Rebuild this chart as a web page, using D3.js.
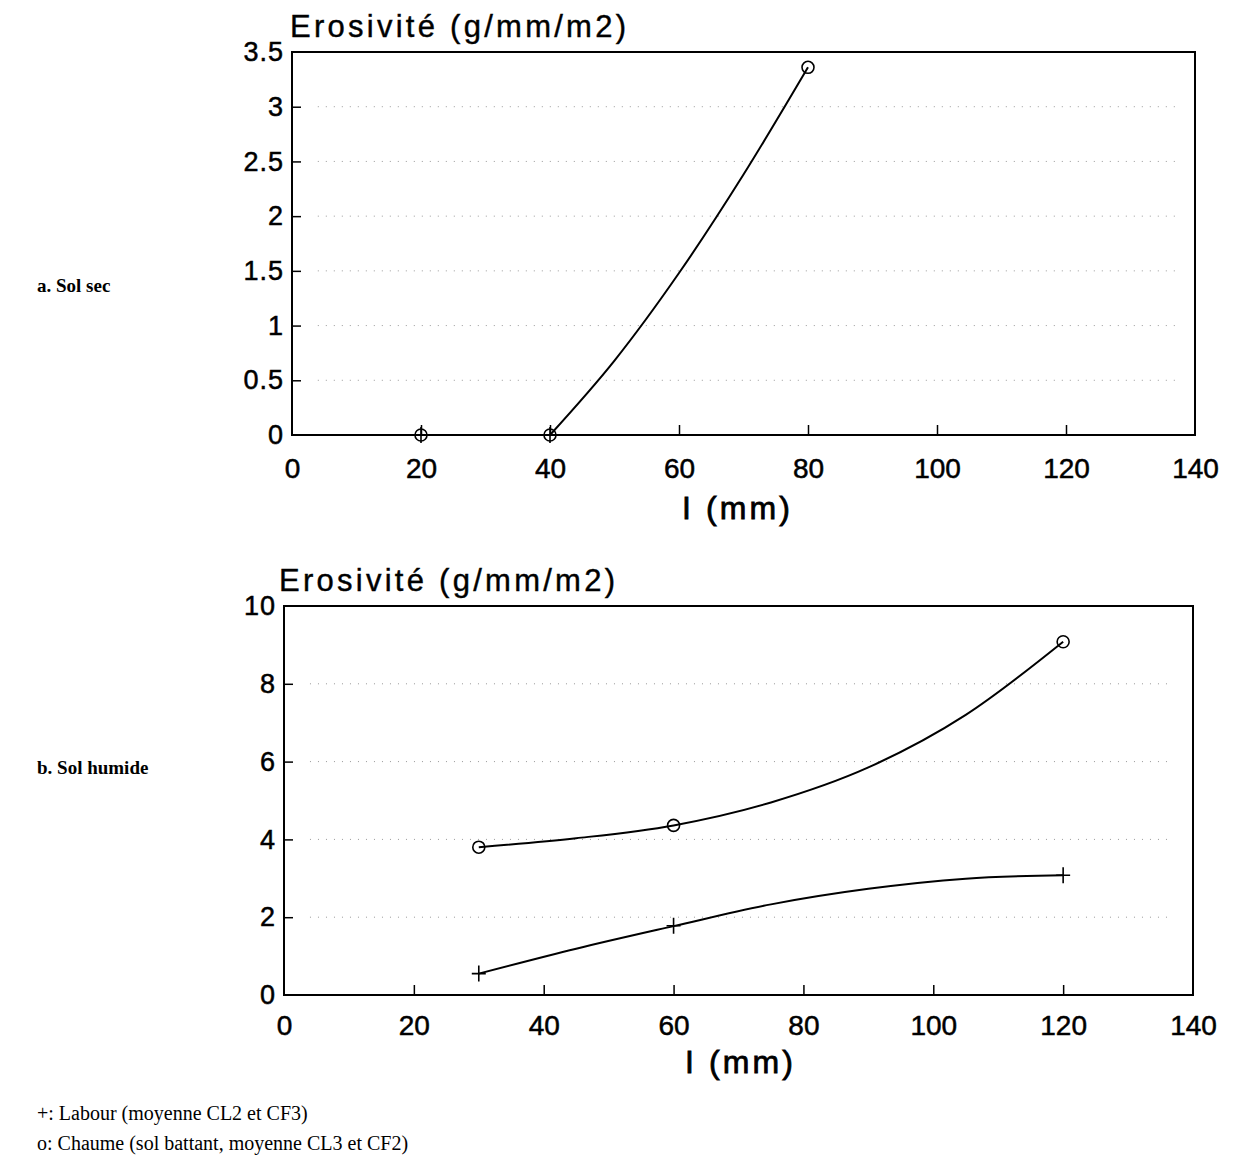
<!DOCTYPE html>
<html>
<head>
<meta charset="utf-8">
<script src="https://cdn.jsdelivr.net/npm/d3@7"></script>
<style>
body { margin: 0; background: #fff; }
</style>
</head>
<body>
<script>
// shared ticks
var xTicks = [0, 20, 40, 60, 80, 100, 120, 140];
var yTicksSec = [0, 0.5, 1, 1.5, 2, 2.5, 3, 3.5];
var yTicksHum = [0, 2, 4, 6, 8, 10];

// a. sol sec : measured points
var secPlus = [[20, 0], [40, 0]];
var secO = [[20, 0], [40, 0], [80, 3.36]];
// the drawn line (flat part, then the rising curve)
var secFlat = [[20, 0], [40, 0]];
var secCurve = [[40, 0], [50, 0.68], [60, 1.48], [70, 2.38], [80, 3.36]];

// b. sol humide : measured points
var humPlus = [[30, 0.55], [60, 1.78], [120, 3.08]];
var humO = [[30, 3.8], [60, 4.36], [120, 9.08]];
// drawn curves, every 15 mm
var humPlusCurve = [[30, 0.55], [45, 1.19], [60, 1.77], [75, 2.33], [90, 2.73], [105, 2.99], [120, 3.08]];
var humOCurve = [[30, 3.8], [45, 4.03], [60, 4.36], [75, 4.95], [90, 5.85], [105, 7.2], [120, 9.08]];

var titleText = 'Erosivité (g/mm/m2)';
var xLabelText = 'I (mm)';

var sans = 'Liberation Sans, Arial, Helvetica, sans-serif';
var serif = 'Liberation Serif, Times New Roman, serif';

var svg = d3.select('body').append('svg')
	.attr('width', 1235)
	.attr('height', 1158);

function drawPanel(p){
	var x = d3.scaleLinear().domain([0, 140]).range([p.left, p.right]);
	var y = d3.scaleLinear().domain([0, p.ymax]).range([p.bottom, p.top]);
	var g = svg.append('g');

	// faint dotted rows left over from the grid in the scan
	g.selectAll('line.grid')
		.data(p.yTicks.slice(1, -1))
		.enter()
		.append('line')
		.attr('class', 'grid')
		.attr('x1', x(4)).attr('x2', x(137))
		.attr('y1', function(d){ return y(d); })
		.attr('y2', function(d){ return y(d); })
		.attr('stroke', '#999')
		.attr('stroke-width', 1)
		.attr('stroke-dasharray', '1 7');

	var ya = g.append('g')
		.attr('transform', 'translate(' + p.left + ',0)')
		.call(d3.axisLeft(y)
			.tickValues(p.yTicks)
			.tickFormat(d3.format('~g'))
			.tickSizeInner(-9)
			.tickSizeOuter(0)
			.tickPadding(8));
	ya.select('.domain').remove();
	ya.selectAll('.tick line')
		.filter(function(d, i, n){ return i == 0 || i == n.length - 1; })
		.remove();
	ya.attr('font-size', 27).attr('font-family', sans);
	ya.selectAll('text')
		.attr('letter-spacing', 1)
		.attr('stroke', '#000')
		.attr('stroke-width', 0.5);

	var xa = g.append('g')
		.attr('transform', 'translate(0,' + p.bottom + ')')
		.call(d3.axisBottom(x)
			.tickValues(xTicks)
			.tickFormat(d3.format('d'))
			.tickSizeInner(-10)
			.tickSizeOuter(0)
			.tickPadding(p.xpad));
	xa.select('.domain').remove();
	xa.selectAll('.tick line')
		.filter(function(d, i, n){ return i == 0 || i == n.length - 1; })
		.remove();
	xa.attr('font-size', 28).attr('font-family', sans);
	xa.selectAll('text')
		.attr('stroke', '#000')
		.attr('stroke-width', 0.5);
	xa.selectAll('.tick line').attr('stroke-width', 1.5);
	ya.selectAll('.tick line').attr('stroke-width', 1.5);

	// frame
	g.append('rect')
		.attr('x', p.left)
		.attr('y', p.top)
		.attr('width', p.right - p.left)
		.attr('height', p.bottom - p.top)
		.attr('fill', 'none')
		.attr('stroke', '#000')
		.attr('stroke-width', 2);

	var line = d3.line()
		.x(function(d){ return x(d[0]); })
		.y(function(d){ return y(d[1]); })
		.curve(d3.curveMonotoneX);

	for(let c of p.curves){
		g.append('path')
			.attr('d', line(c))
			.attr('fill', 'none')
			.attr('stroke', '#000')
			.attr('stroke-width', 2);
	}

	g.selectAll('circle.o')
		.data(p.circles)
		.enter()
		.append('circle')
		.attr('class', 'o')
		.attr('cx', function(d){ return x(d[0]); })
		.attr('cy', function(d){ return y(d[1]); })
		.attr('r', 6)
		.attr('fill', 'none')
		.attr('stroke', '#000')
		.attr('stroke-width', 1.6);

	g.selectAll('path.plus')
		.data(p.plus)
		.enter()
		.append('path')
		.attr('class', 'plus')
		.attr('d', function(d){
			var cx = x(d[0]), cy = y(d[1]);
			return 'M' + (cx - 7) + ',' + cy + 'H' + (cx + 7) + 'M' + cx + ',' + (cy - 8) + 'V' + (cy + 8);
		})
		.attr('stroke', '#000')
		.attr('stroke-width', 1.6);

	g.append('text')
		.attr('x', p.titleX)
		.attr('y', p.titleY)
		.attr('font-family', sans)
		.attr('font-size', 31)
		.attr('textLength', 336)
		.attr('lengthAdjust', 'spacing')
		.attr('stroke', '#000')
		.attr('stroke-width', 0.4)
		.text(titleText);

	g.append('text')
		.attr('x', p.xLabelX)
		.attr('y', p.xLabelY)
		.attr('font-family', sans)
		.attr('font-size', 32)
		.attr('textLength', 108)
		.attr('lengthAdjust', 'spacing')
		.attr('stroke', '#000')
		.attr('stroke-width', 0.8)
		.text(xLabelText);

	g.append('text')
		.attr('x', 37)
		.attr('y', p.sideY)
		.attr('font-family', serif)
		.attr('font-weight', 'bold')
		.attr('font-size', 19)
		.text(p.side);
}

drawPanel({
	left: 292, right: 1195, top: 52, bottom: 435,
	ymax: 3.5, yTicks: yTicksSec, xpad: 23,
	curves: [secFlat, secCurve], circles: secO, plus: secPlus,
	titleX: 290, titleY: 37,
	xLabelX: 682, xLabelY: 519,
	side: 'a. Sol sec', sideY: 292
});

drawPanel({
	left: 284, right: 1193, top: 606, bottom: 995,
	ymax: 10, yTicks: yTicksHum, xpad: 20,
	curves: [humPlusCurve, humOCurve], circles: humO, plus: humPlus,
	titleX: 279, titleY: 591,
	xLabelX: 685, xLabelY: 1073,
	side: 'b. Sol humide', sideY: 774
});

// legend
var legendLines = ['+: Labour (moyenne CL2 et CF3)', 'o: Chaume (sol battant, moyenne CL3 et CF2)'];
svg.selectAll('text.legend')
	.data(legendLines)
	.enter()
	.append('text')
	.attr('class', 'legend')
	.attr('x', 37)
	.attr('y', function(d, i){ return 1120 + i * 30; })
	.attr('font-family', serif)
	.attr('font-size', 20)
	.text(function(d){ return d; });
</script>
</body>
</html>
